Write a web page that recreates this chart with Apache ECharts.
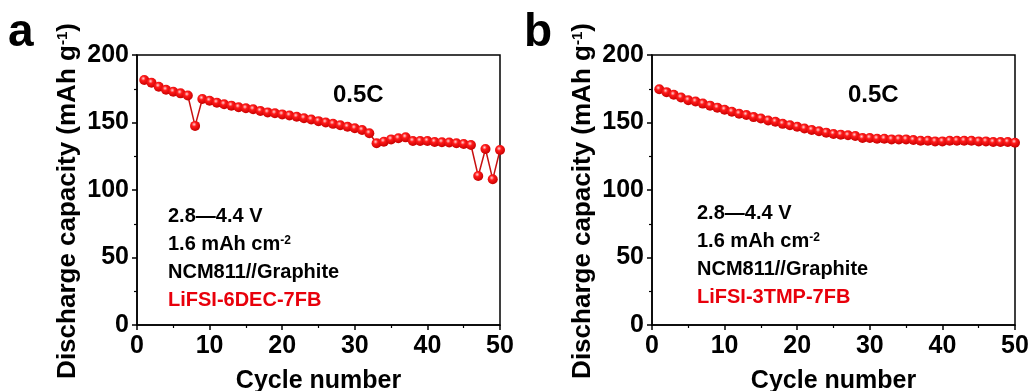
<!DOCTYPE html>
<html>
<head>
<meta charset="utf-8">
<script src="https://cdn.jsdelivr.net/npm/echarts@6/dist/echarts.min.js"></script>
<style>
  html, body { margin: 0; padding: 0; background: #fff; }
  #chart { width: 1030px; height: 391px; }
</style>
</head>
<body>
<div id="chart"></div>
<script>
// Cycle index (x) and discharge capacity (mAh g-1) for both cells
const cycles = [1,2,3,4,5,6,7,8,9,10,11,12,13,14,15,16,17,18,19,20,21,22,23,24,25,
  26,27,28,29,30,31,32,33,34,35,36,37,38,39,40,41,42,43,44,45,46,47,48,49,50];

const capacityA = [181.5,179.5,176.5,174.2,172.8,171.6,170.0,147.5,167.4,166.1,
  164.7,163.5,162.5,161.3,160.5,159.8,158.5,157.5,156.8,156.0,
  155.2,154.3,153.2,152.2,151.0,150.0,149.0,148.0,146.8,145.7,
  144.4,142.0,134.6,135.8,137.5,138.3,139.0,136.3,136.3,136.3,
  135.6,135.4,135.2,134.6,134.1,133.3,110.4,130.4,107.9,129.6];

const capacityB = [174.6,172.5,170.5,168.5,166.5,165.5,164.0,162.5,161.0,159.5,
  158.0,156.5,155.5,154.0,153.0,151.5,150.5,149.0,148.0,146.8,
  145.5,144.5,143.5,142.5,141.5,141.0,140.5,140.0,138.5,138.5,
  138.0,138.0,137.5,137.5,137.5,137.0,136.5,136.5,136.0,136.0,
  136.5,136.5,136.5,136.5,136.0,136.0,135.5,135.5,135.5,135.0];

const panelLabels = ["a", "b"];
const electrolytes = ["LiFSI-6DEC-7FB", "LiFSI-3TMP-7FB"];

const FONT = "Liberation Sans, Arial, sans-serif";

const chart = echarts.init(document.getElementById("chart"));

const grids = [
  { left: 137, top: 55, width: 363, height: 270 },
  { left: 652, top: 55, width: 363, height: 270 },
];

const sphere = new echarts.graphic.RadialGradient(0.4, 0.35, 0.65, [
  { offset: 0, color: "#ffd6d6" },
  { offset: 0.35, color: "#ff1a1a" },
  { offset: 1, color: "#c80000" },
]);

function xAxis(i) {
  return {
    gridIndex: i,
    type: "value",
    min: 0,
    max: 50,
    interval: 10,
    name: "Cycle number",
    nameLocation: "middle",
    nameGap: 44,
    nameTextStyle: { fontFamily: FONT, fontSize: 25, fontWeight: "bold", color: "#000" },
    axisLine: { lineStyle: { color: "#000", width: 1.5 } },
    axisTick: { inside: false, length: 5, lineStyle: { color: "#000", width: 1.5 } },
    minorTick: { show: true, splitNumber: 2, length: 3, lineStyle: { color: "#000", width: 1.2 } },
    splitLine: { show: false },
    axisLabel: { margin: 9, fontFamily: FONT, fontSize: 25, fontWeight: "bold", color: "#000" },
  };
}

function yAxis(i) {
  return {
    gridIndex: i,
    type: "value",
    min: 0,
    max: 200,
    interval: 50,
    name: "Discharge capacity (mAh g{sup|-1})",
    nameLocation: "middle",
    nameGap: 56,
    nameTextStyle: {
      fontFamily: FONT, fontSize: 26, fontWeight: "bold", color: "#000",
      padding: [0, 0, 0, -22],
      rich: {
        sup: { fontFamily: FONT, fontSize: 15, fontWeight: "bold", color: "#000", verticalAlign: "top" },
      },
    },
    axisLine: { show: true, lineStyle: { color: "#000", width: 1.5 } },
    axisTick: { show: true, inside: false, length: 5, lineStyle: { color: "#000", width: 1.5 } },
    minorTick: { show: true, splitNumber: 2, length: 3, lineStyle: { color: "#000", width: 1.2 } },
    splitLine: { show: false },
    axisLabel: { margin: 8, fontFamily: FONT, fontSize: 25, fontWeight: "bold", color: "#000" },
  };
}

function series(i, values) {
  return {
    type: "line",
    xAxisIndex: i,
    yAxisIndex: i,
    data: cycles.map((c, k) => [c, values[k]]),
    symbol: "circle",
    symbolSize: 10,
    showAllSymbol: true,
    lineStyle: { color: "#c81010", width: 1.5 },
    itemStyle: { color: sphere },
    z: 3,
  };
}

function annotations(i, x0, y0) {
  const g = grids[i];
  const items = [
    {
      type: "text",
      left: g.left + 196,
      top: 83,
      style: { text: "0.5C", font: "bold 24px " + FONT, fill: "#000" },
    },
    {
      type: "text",
      left: i === 0 ? 8 : 524,
      top: 10,
      style: { text: panelLabels[i], font: "bold 46px " + FONT, fill: "#000" },
    },
  ];
  const lines = ["2.8\u20144.4 V", "1.6 mAh cm{sup|-2}", "NCM811//Graphite"];
  lines.forEach((t, k) => {
    items.push({
      type: "text",
      left: x0,
      top: y0 + k * 28.3,
      style: {
        text: t,
        font: "bold 20px " + FONT,
        fill: "#000",
        rich: {
          sup: { font: "bold 12px " + FONT, fill: "#000", verticalAlign: "top" },
        },
      },
    });
  });
  items.push({
    type: "text",
    left: x0,
    top: y0 + 3 * 28.3,
    style: { text: electrolytes[i], font: "bold 20px " + FONT, fill: "#e8000b" },
  });
  return items;
}

const option = {
  backgroundColor: "#fff",
  animation: false,
  grid: grids.map((g) => ({
    ...g,
    show: true,
    outerBoundsMode: "none",
    containLabel: false,
    borderColor: "#000",
    borderWidth: 1.5,
    backgroundColor: "transparent",
  })),
  xAxis: [xAxis(0), xAxis(1)],
  yAxis: [yAxis(0), yAxis(1)],
  series: [series(0, capacityA), series(1, capacityB)],
  graphic: [...annotations(0, 168, 206), ...annotations(1, 697, 203)],
};

chart.setOption(option);
</script>
</body>
</html>
